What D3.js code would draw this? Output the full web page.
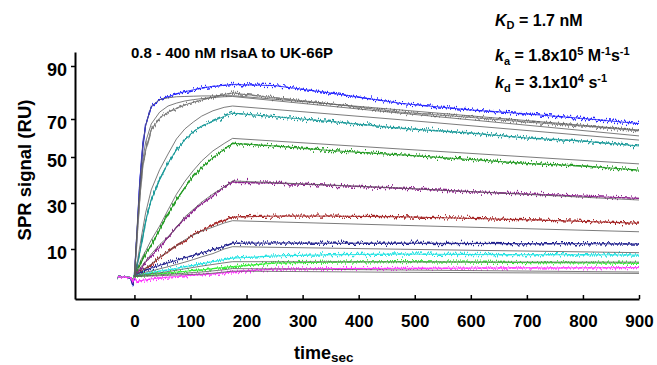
<!DOCTYPE html>
<html>
<head>
<meta charset="utf-8">
<script src="https://cdn.jsdelivr.net/npm/d3@7"></script>
<style>
  body { margin: 0; background: #fff; }
  svg { display: block; font-family: "Liberation Sans", Arial, sans-serif; }
</style>
</head>
<body>
<svg id="chart" width="657" height="365"></svg>
<script>
// time grid of the measured traces (s)
const T = [-30, -15, -6, -3, 0, 5, 10, 15, 20, 30, 45, 60, 75, 90, 105, 120, 140, 160, 175, 250, 350, 475, 600, 700, 800, 900];
// measured SPR traces (RU), one per concentration, highest first
const blue    = [-2.4, -2.2, -2.6, -5.7, -2.0, 18.5, 40.5, 56.0, 66.8, 74.5, 77.3, 78.4, 79.5, 80.3, 81.0, 81.7, 82.3, 82.7, 83.0, 82.6, 79.8, 75.9, 73.4, 71.9, 70.2, 67.6];
const gray    = [-2.3, -2.2, -2.5, -4.8, -2.0, 16.1, 33.5, 46.5, 53.7, 64.2, 70.4, 72.6, 74.0, 75.3, 76.3, 77.2, 78.3, 79.2, 79.8, 78.0, 75.7, 72.6, 70.6, 68.4, 66.3, 63.8];
const teal    = [-2.3, -2.1, -2.4, -4.5, -2.0, 3.0, 8.8, 15.5, 21.9, 31.3, 40.3, 47.4, 53.6, 59.0, 63.3, 66.3, 68.8, 71.0, 72.2, 70.9, 68.7, 65.1, 62.6, 60.0, 58.4, 55.8];
const green   = [-2.4, -2.2, -2.5, -4.2, -2.0, 0.9, 3.0, 5.5, 7.9, 11.7, 18.4, 25.2, 31.4, 36.7, 41.6, 45.4, 49.7, 54.0, 57.2, 55.8, 53.4, 51.1, 48.9, 47.2, 46.1, 44.3];
const purple  = [-2.3, -2.2, -2.5, -4.0, -2.0, 0.0, 0.9, 2.5, 4.2, 7.0, 10.8, 14.9, 19.5, 23.1, 26.8, 29.7, 33.0, 37.0, 39.0, 38.6, 37.7, 36.4, 34.9, 33.9, 33.0, 32.0];
const darkred = [-2.3, -2.1, -2.4, -3.8, -2.0, -0.9, 0.0, 0.9, 1.7, 3.0, 6.3, 8.6, 11.3, 13.3, 16.4, 17.9, 20.5, 22.4, 23.9, 24.3, 24.3, 24.0, 23.3, 22.7, 22.0, 21.2];
const navy    = [-2.4, -2.2, -2.6, -5.5, -2.0, -0.9, -0.3, 0.3, 0.9, 1.7, 2.9, 4.0, 5.1, 6.2, 7.2, 8.4, 9.7, 11.1, 12.5, 12.6, 12.5, 12.5, 12.4, 12.3, 12.3, 12.2];
const cyan    = [-2.3, -2.1, -2.4, -3.5, -2.0, -1.3, -1.0, -0.8, -0.6, -0.2, 0.4, 0.9, 1.6, 2.3, 2.9, 3.6, 4.5, 5.4, 6.0, 7.0, 7.5, 7.8, 7.6, 7.5, 7.5, 7.4];
const lime    = [-2.3, -2.2, -2.4, -3.3, -2.0, -1.7, -1.6, -1.4, -1.3, -1.0, -0.7, -0.4, 0.0, 0.3, 0.7, 0.9, 1.5, 2.0, 2.3, 3.9, 4.3, 4.5, 4.3, 4.1, 4.0, 3.8];
const magenta = [-2.3, -2.2, -2.4, -4.3, -2.5, -4.2, -3.8, -3.6, -3.4, -3.0, -2.6, -2.2, -1.9, -1.6, -1.4, -1.2, -0.8, -0.3, 0.1, 1.3, 1.5, 1.6, 1.7, 1.8, 1.8, 1.9];

// time grid of the global 1:1 fit curves (s)
const TF = [0, 5, 10, 15, 20, 30, 45, 60, 75, 90, 105, 120, 140, 160, 175, 475, 900];
const fitBlue    = [-2.0, 20.4, 40.0, 56.5, 66.5, 74.8, 77.3, 78.0, 78.4, 78.5, 78.6, 78.7, 78.7, 78.8, 78.8, 73.4, 64.2];
const fitGray    = [-2.0, 19.1, 36.5, 48.7, 57.9, 67.4, 72.6, 74.9, 76.0, 76.8, 77.3, 77.7, 78.1, 78.4, 78.5, 72.2, 61.1];
const fitTeal    = [-2.0, 4.3, 11.7, 18.8, 25.7, 35.7, 44.5, 51.6, 59.5, 64.8, 68.4, 71.1, 73.1, 74.4, 74.9, 69.6, 58.9];
const fitGreen   = [-2.0, 1.7, 4.3, 6.9, 9.1, 13.9, 20.0, 27.0, 33.8, 39.4, 44.1, 48.3, 53.2, 57.1, 59.8, 54.2, 47.0];
const fitPurple  = [-2.0, 0.0, 1.7, 3.2, 4.6, 7.8, 11.9, 15.3, 19.4, 24.0, 27.2, 30.4, 33.9, 37.0, 39.6, 36.5, 31.3];
const fitDarkred = [-2.0, -1.0, 0.0, 0.9, 1.7, 3.5, 6.5, 9.0, 11.4, 14.0, 16.0, 17.8, 19.5, 21.3, 22.3, 20.3, 17.5];
const fitNavy    = [-2.0, -1.5, -1.0, -0.5, 0.0, 0.4, 1.4, 2.3, 3.3, 4.3, 5.4, 6.6, 8.0, 10.0, 11.0, 9.9, 8.4];
const fitCyan    = [-2.0, -1.6, -1.4, -1.2, -1.0, -0.7, -0.3, 0.2, 0.8, 1.4, 2.0, 2.6, 3.3, 4.0, 4.5, 4.4, 4.3];
const fitLime    = [-2.0, -1.9, -1.8, -1.7, -1.6, -1.5, -1.2, -0.9, -0.7, -0.5, -0.2, 0.0, 0.5, 1.0, 1.5, 0.9, 0.0];
const fitMagenta = [-2.0, -1.9, -1.9, -1.8, -1.8, -1.7, -1.6, -1.4, -1.3, -1.1, -1.0, -0.9, -0.5, 0.0, 0.4, -0.1, -0.6];

// tick labels
const xTicks = [0, 100, 200, 300, 400, 500, 600, 700, 800, 900];
const yTicks = [10, 30, 50, 70, 90];

const traces = [blue, gray, teal, green, purple, darkred, navy, cyan, lime, magenta];
const fits = [fitBlue, fitGray, fitTeal, fitGreen, fitPurple, fitDarkred, fitNavy, fitCyan, fitLime, fitMagenta];
const colors = ["#2222ff", "#7c7c7c", "#1c9a9a", "#229a22", "#8c1f8c", "#a32222", "#22228e", "#22e3e3", "#33ee33", "#ff33ff"];

const svg = d3.select("#chart");
const font = "Liberation Sans, Arial, sans-serif";

// x: seconds; y: the printed axis is not evenly spaced, so a piecewise scale
const x = d3.scaleLinear().domain([-106, 900]).range([75, 639]);
const y = d3.scaleLinear()
  .domain([-11.7, 10, 30, 50, 70, 90, 95.3])
  .range([299, 249, 203, 157, 119, 66, 52]);

// jitter filter for the raw sensorgram look (vertical only)
const defs = svg.append("defs");
const flt = defs.append("filter").attr("id", "noise")
  .attr("color-interpolation-filters", "sRGB")
  .attr("x", "-5%").attr("y", "-10%").attr("width", "110%").attr("height", "120%");
flt.append("feTurbulence").attr("type", "fractalNoise")
  .attr("baseFrequency", "0.8 0.03").attr("numOctaves", 2).attr("seed", 4).attr("result", "t");
flt.append("feColorMatrix").attr("in", "t").attr("type", "matrix")
  .attr("values", "0 0 0 0 0.5  1 0 0 0 0  0 0 0 0 0  0 0 0 0 1").attr("result", "m");
flt.append("feDisplacementMap").attr("in", "SourceGraphic").attr("in2", "m")
  .attr("scale", 9).attr("xChannelSelector", "R").attr("yChannelSelector", "G");

const line = d3.line().x(d => x(d[0])).y(d => y(d[1]));

// measured traces
const gData = svg.append("g");
traces.forEach((vals, i) => {
  const pts = T.map((t, j) => [t, vals[j]]);
  gData.append("path").datum(pts)
    .attr("d", line).attr("fill", "none")
    .attr("stroke", colors[i]).attr("stroke-width", 0.9);
  gData.append("path").datum(pts)
    .attr("d", line).attr("fill", "none")
    .attr("stroke", colors[i]).attr("stroke-width", 1.4)
    .attr("filter", "url(#noise)");
});

// fitted curves
const gFit = svg.append("g");
fits.forEach(vals => {
  gFit.append("path").datum(TF.map((t, j) => [t, vals[j]]))
    .attr("d", line).attr("fill", "none")
    .attr("stroke", "#5a5a5a").attr("stroke-width", 0.8);
});

// axes
const xAxis = d3.axisBottom(x).tickValues(xTicks).tickSize(-4).tickSizeOuter(0).tickPadding(16);
const gx = svg.append("g").attr("transform", "translate(0,299)").call(xAxis);
gx.select(".domain").attr("stroke-width", 2);
gx.selectAll(".tick line").attr("stroke-width", 1.5);
gx.selectAll("text").attr("font-family", font).attr("font-size", 17).attr("font-weight", "bold").attr("fill", "#000");

const yAxis = d3.axisLeft(y).tickValues(yTicks).tickSize(4).tickSizeOuter(0).tickPadding(4);
const gy = svg.append("g").attr("transform", "translate(75,0)").call(yAxis);
gy.select(".domain").attr("stroke-width", 2);
gy.selectAll(".tick line").attr("stroke-width", 1.5);
gy.selectAll("text").attr("font-family", font).attr("font-size", 18).attr("font-weight", "bold")
  .attr("fill", "#000").attr("dy", "0.52em");

// axis titles
svg.append("text")
  .attr("transform", "translate(31,170) rotate(-90)")
  .attr("text-anchor", "middle").attr("font-size", 18.5).attr("font-weight", "bold")
  .text("SPR signal (RU)");

const xt = svg.append("text").attr("x", 294).attr("y", 358.5).attr("font-weight", "bold").attr("font-size", 18);
xt.append("tspan").text("time");
xt.append("tspan").attr("font-size", 13.5).attr("dy", 3.5).text("sec");

// title
svg.append("text").attr("x", 131).attr("y", 58)
  .attr("font-size", 15).attr("font-weight", "bold")
  .text("0.8 - 400 nM rIsaA to UK-66P");

// kinetic constants
const kx = 495;
const k1 = svg.append("text").attr("x", kx).attr("y", 25.5).attr("font-size", 16).attr("font-weight", "bold");
k1.append("tspan").attr("font-style", "italic").text("K");
k1.append("tspan").attr("font-size", 11).attr("dy", 3).text("D");
k1.append("tspan").attr("dy", -3).text(" = 1.7 nM");

const k2 = svg.append("text").attr("x", kx).attr("y", 60.5).attr("font-size", 16).attr("font-weight", "bold");
k2.append("tspan").attr("font-style", "italic").text("k");
k2.append("tspan").attr("font-size", 11).attr("dy", 4).text("a");
k2.append("tspan").attr("dy", -4).text(" = 1.8x10");
k2.append("tspan").attr("font-size", 11).attr("dy", -6).text("5");
k2.append("tspan").attr("dy", 6).text(" M");
k2.append("tspan").attr("font-size", 11).attr("dy", -6).text("-1");
k2.append("tspan").attr("dy", 6).text("s");
k2.append("tspan").attr("font-size", 11).attr("dy", -6).text("-1");

const k3 = svg.append("text").attr("x", kx).attr("y", 87.5).attr("font-size", 16).attr("font-weight", "bold");
k3.append("tspan").attr("font-style", "italic").text("k");
k3.append("tspan").attr("font-size", 11).attr("dy", 4).text("d");
k3.append("tspan").attr("dy", -4).text(" = 3.1x10");
k3.append("tspan").attr("font-size", 11).attr("dy", -6).text("4");
k3.append("tspan").attr("dy", 6).text(" s");
k3.append("tspan").attr("font-size", 11).attr("dy", -6).text("-1");
</script>
</body>
</html>
